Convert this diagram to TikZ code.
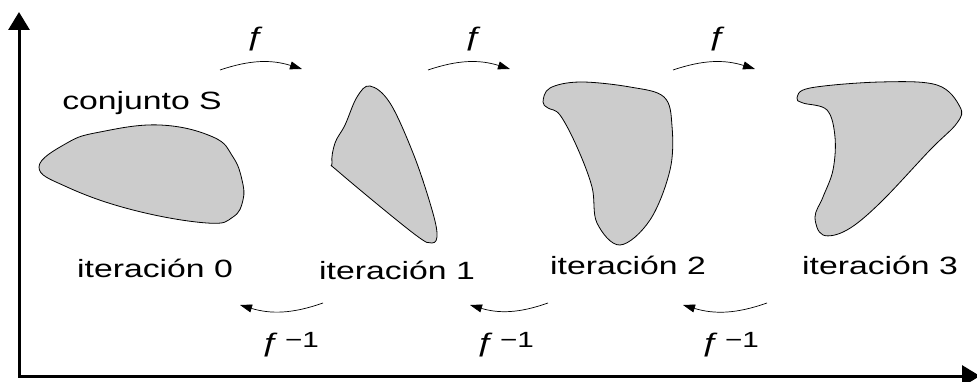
\documentclass[tikz,border=0pt]{standalone}
\usepackage{fontspec}
\setmainfont{Liberation Sans}[FakeStretch=1.35]
\usetikzlibrary{arrows.meta}

\begin{document}
\begin{tikzpicture}[
  x=1pt, y=1pt,
  >={Triangle[length=12pt, width=8pt]},
  axis/.style={line width=3pt, {Triangle[length=18pt, width=21pt]}-{Triangle[length=18pt, width=21pt]}},
  blob/.style={draw, fill=black!20, line width=0.8pt},
  map/.style={->, line width=0.7pt, bend left=18},
  lbl/.style={font=\fontsize{25}{29}\selectfont, inner sep=0pt},
  fn/.style={font=\fontsize{26}{30}\selectfont, inner sep=0pt},
]
  \useasboundingbox (0,0) rectangle (977,381);

  % axes
  \coordinate (O) at (19,5);
  \coordinate (ytop) at (19,369);
  \coordinate (xend) at (980,5);
  \draw[axis] (ytop) -- (O) -- (xend);

  % the set and its iterates
  \draw[blob] plot[smooth cycle, tension=0.7] coordinates {
    (39,214) (67,238) (100,249) (160,256) (213,244) (233,224)
    (242,201) (243,181) (233,164) (207,158) (133,171) (67,194)};
  \draw[blob] plot[smooth cycle, tension=0.6] coordinates {
    (370,295) (390,278) (413,228) (430,178) (437,148) (432,138)
    (413,148) (340,208) (332,218) (335,238) (345,256) (357,284)};
  \draw[blob] plot[smooth cycle, tension=0.6] coordinates {
    (543,279) (550,293) (580,299) (630,294) (664,284) (672,255)
    (670,211) (650,161) (620,136) (597,158) (592,194) (577,234)
    (560,266) (548,273)};
  \draw[blob] plot[smooth cycle, tension=0.6] coordinates {
    (797,283) (810,293) (880,299) (937,296) (960,274) (957,258)
    (930,231) (880,178) (847,151) (823,146) (815,164) (823,184)
    (833,211) (835,244) (827,271) (803,278)};

  \node[lbl] (S) at (142,278) {conjunto S};
  \foreach \i/\x/\y in {0/155/113, 1/397/111, 2/628/116, 3/880/116}
    \node[lbl] (it\i) at (\x,\y) {iteración \i};

  % forward maps
  \foreach \i/\xa/\xb/\xl in {1/220/302/256, 2/428/510/474, 3/673/755/718} {
    \coordinate (fs\i) at (\xa,311);
    \coordinate (fe\i) at (\xb,312);
    \draw[map] (fs\i) to (fe\i);
    \node[fn] (f\i) at (\xl,342) {ƒ};
  }

  % inverse maps
  \foreach \i/\xa/\xb/\xl in {1/323/240/290, 2/548/470/505, 3/767/683/730} {
    \coordinate (gs\i) at (\xa,78);
    \coordinate (ge\i) at (\xb,76);
    \draw[map] (gs\i) to (ge\i);
    \node[fn] (g\i) at (\xl,36)
      {ƒ\,\raisebox{4pt}{\fontsize{22}{24}\selectfont −1}};
  }
\end{tikzpicture}
\end{document}
